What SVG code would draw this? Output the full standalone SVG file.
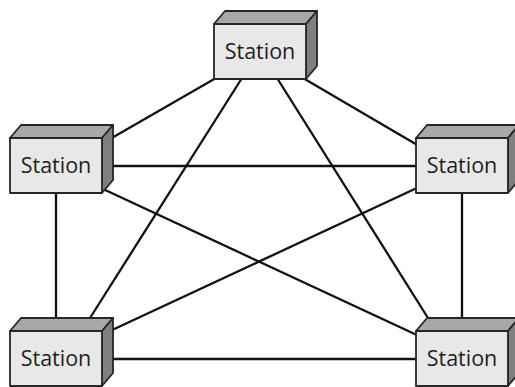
<svg xmlns="http://www.w3.org/2000/svg" width="515" height="387" viewBox="0 0 515 387">
  <defs>
    <style>
      .front { fill: #e8e8e8; stroke: #262626; stroke-width: 1.8; stroke-linejoin: round; }
      .top { fill: #a8a8a8; stroke: #262626; stroke-width: 1.8; stroke-linejoin: round; }
      .side { fill: #7f7f7f; stroke: #262626; stroke-width: 1.8; stroke-linejoin: round; }
      .label { font-family: "Open Sans", "Noto Sans", "DejaVu Sans", sans-serif; font-size: 21.5px; fill: #1e1e1e; text-anchor: middle; }
      .link { stroke: #111; stroke-width: 2.3; fill: none; }
    </style>
    <g id="box">
      <polygon class="top" points="0,0 11,-13 103,-13 92,0"/>
      <polygon class="side" points="92,0 103,-13 103,42 92,55"/>
      <rect class="front" x="0" y="0" width="92" height="55"/>
    </g>
  </defs>
  <rect width="515" height="387" fill="#ffffff"/>
  <g id="connectors">
    <line class="link" x1="216" y1="78" x2="110" y2="139"/>
    <line class="link" x1="303" y1="78" x2="419" y2="146"/>
    <line class="link" x1="242" y1="78" x2="90" y2="318"/>
    <line class="link" x1="277" y1="78" x2="428" y2="318"/>
    <line class="link" x1="108" y1="166" x2="419" y2="166"/>
    <line class="link" x1="56" y1="192" x2="56" y2="319"/>
    <line class="link" x1="462" y1="192" x2="462" y2="319"/>
    <line class="link" x1="103" y1="189" x2="419" y2="336"/>
    <line class="link" x1="419" y1="187" x2="110" y2="331"/>
    <line class="link" x1="108" y1="359" x2="419" y2="359"/>
  </g>
  <g id="station-top" transform="translate(214,24)">
    <use href="#box"/>
    <text class="label" x="46" y="35">Station</text>
  </g>
  <g id="station-left" transform="translate(10,138)">
    <use href="#box"/>
    <text class="label" x="46" y="35">Station</text>
  </g>
  <g id="station-right" transform="translate(416,138)">
    <use href="#box"/>
    <text class="label" x="46" y="35">Station</text>
  </g>
  <g id="station-bottom-left" transform="translate(10,331)">
    <use href="#box"/>
    <text class="label" x="46" y="35">Station</text>
  </g>
  <g id="station-bottom-right" transform="translate(416,331)">
    <use href="#box"/>
    <text class="label" x="46" y="35">Station</text>
  </g>
</svg>
